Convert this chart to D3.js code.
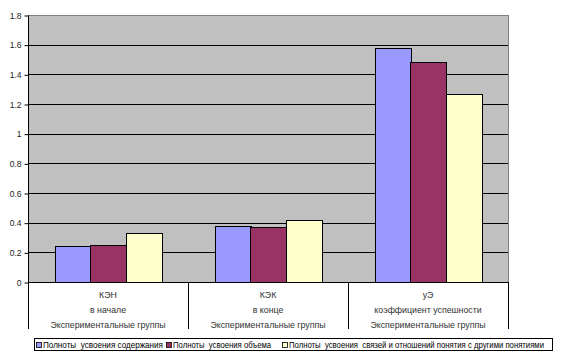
<!DOCTYPE html>
<html><head><meta charset="utf-8">
<script src="https://cdn.jsdelivr.net/npm/d3@7"></script>
<style>
html,body{margin:0;padding:0;background:#fff;}
svg{display:block;font-family:"Liberation Sans",Arial,sans-serif;}
</style></head>
<body><svg id="c" width="573" height="357"></svg>
<script>
const categories = ["КЭН", "КЭК", "уЭ"];
const categoryLines = [
  ["КЭН", "в начале", "Экспериментальные группы"],
  ["КЭК", "в конце", "Экспериментальные группы"],
  ["уЭ", "коэффициент успешности", "Экспериментальные группы"]
];
const seriesNames = [
  "Полноты  усвоения содержания",
  "Полноты  усвоения объема",
  "Полноты  усвоения  связей и отношений понятия с другими понятиями"
];
const seriesContent = [0.24, 0.38, 1.58];
const seriesVolume = [0.25, 0.37, 1.48];
const seriesRelations = [0.33, 0.42, 1.27];
const yTicks = [0, 0.2, 0.4, 0.6, 0.8, 1, 1.2, 1.4, 1.6, 1.8];
const colors = ["#9999FF", "#993366", "#FFFFCC"];

const series = [seriesContent, seriesVolume, seriesRelations];
const svg = d3.select("#c");
const L = 28, R = 508, T = 15, B = 282;

const x = d3.scaleBand().domain(categories).range([L, R]).paddingInner(0).paddingOuter(0);
const y = d3.scaleLinear().domain([0, 1.8]).range([B, T]);
const barW = x.bandwidth() / 4.5;
const x1 = d3.scaleBand().domain(d3.range(3)).range([0, barW * 3]);

// plot background
svg.append("rect").attr("x", L).attr("y", T).attr("width", R - L).attr("height", B - T).attr("fill", "#C0C0C0");
// gridlines
svg.append("g").selectAll("line").data(yTicks.filter(d => d > 0)).join("line")
  .attr("x1", L).attr("x2", R).attr("y1", d => Math.round(y(d)) + 0.5).attr("y2", d => Math.round(y(d)) + 0.5)
  .attr("stroke", d => d === 1.8 ? "#808080" : "#000").attr("stroke-width", 1);
// right border
svg.append("line").attr("x1", R + 0.5).attr("x2", R + 0.5).attr("y1", T).attr("y2", B).attr("stroke", "#808080");

// bars
const g = svg.append("g");
categories.forEach((c, ci) => {
  series.forEach((s, si) => {
    const bx = x(c) + (x.bandwidth() - barW * 3) / 2 + x1(si);
    g.append("rect")
      .attr("x", Math.round(bx) + 0.5)
      .attr("y", Math.round(y(s[ci])) + 0.5)
      .attr("width", Math.round(barW))
      .attr("height", Math.round(B - y(s[ci])))
      .attr("fill", colors[si]).attr("stroke", "#000").attr("stroke-width", 1);
  });
});

// y axis
const ya = d3.axisLeft(y).tickValues(yTicks).tickSize(4).tickPadding(3)
  .tickFormat(d => d === 0 || d === 1 ? String(d) : d3.format(".1f")(d));
const yg = svg.append("g").attr("transform", `translate(${L + 0.5},0.5)`).call(ya);
yg.select(".domain").attr("d", `M0,${T}V${B}`).attr("stroke", "#000");
yg.selectAll(".tick line").attr("stroke", "#000");
yg.selectAll(".tick text").attr("font-size", 8.5).attr("fill", "#222").attr("font-family", "Liberation Sans, Arial, sans-serif");

// category axis
svg.append("line").attr("x1", L).attr("x2", R + 1).attr("y1", B + 0.5).attr("y2", B + 0.5).attr("stroke", "#000");
const bounds = categories.map(c => x(c)).concat([R]);
svg.append("g").selectAll("line").data(bounds).join("line")
  .attr("x1", d => Math.round(d) + 0.5).attr("x2", d => Math.round(d) + 0.5)
  .attr("y1", B).attr("y2", 329).attr("stroke", "#000");
categories.forEach((c, ci) => {
  const cx = x(c) + x.bandwidth() / 2;
  categoryLines[ci].forEach((t, li) => {
    svg.append("text").attr("x", cx).attr("y", 298 + li * 15)
      .attr("text-anchor", "middle").attr("font-size", 8.8).attr("fill", "#333").text(t);
  });
});

// legend
svg.append("rect").attr("x", 34.5).attr("y", 338.5).attr("width", 518).attr("height", 12)
  .attr("fill", "#fff").attr("stroke", "#000");
const legX = [36, 166, 282];
const legW = [120, 98, 255];
seriesNames.forEach((n, i) => {
  svg.append("rect").attr("x", legX[i] + 0.5).attr("y", 342.5).attr("width", 5).attr("height", 5)
    .attr("fill", colors[i]).attr("stroke", "#000").attr("stroke-width", 0.8);
  svg.append("text").attr("x", legX[i] + 7).attr("y", 348).attr("font-size", 8.6).attr("fill", "#000")
    .attr("textLength", legW[i]).attr("lengthAdjust", "spacingAndGlyphs")
    .style("white-space", "pre").text(n);
});
</script></body></html>
